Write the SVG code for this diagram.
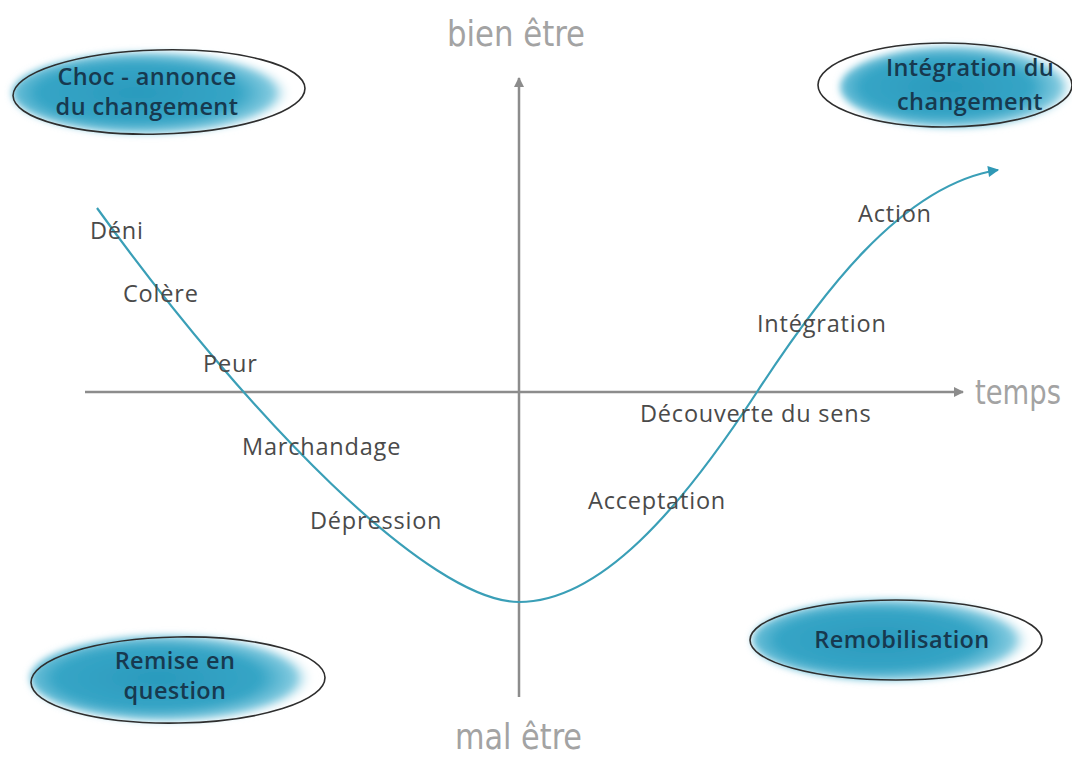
<svg xmlns="http://www.w3.org/2000/svg" width="1072" height="758" viewBox="0 0 1072 758">
<defs>
<style>
.axis{stroke:#8c8c8c;stroke-width:2.5;fill:none}
.axlbl{font-family:"DejaVu Sans ExtraLight","DejaVu Sans Condensed","DejaVu Sans",sans-serif;font-weight:200;fill:#a3a3a3;font-size:36px}
.lbl{font-family:"Open Sans","Noto Sans",sans-serif;font-size:23.5px;letter-spacing:0.8px;fill:#4a4a4a}
.nlbl{font-family:"Open Sans","Noto Sans",sans-serif;font-size:23.5px;letter-spacing:0.4px;font-weight:600;fill:#17394f;text-anchor:middle}
.outline{fill:none;stroke:#2e2e2e;stroke-width:1.6}
.blob{filter:url(#blur)}
.curve{fill:none;stroke:#3a9fb7;stroke-width:2.2}
</style>
<radialGradient id="blue" cx="0.45" cy="0.5" r="0.55">
<stop offset="0" stop-color="#2a9abd"/>
<stop offset="0.65" stop-color="#36a5c6"/>
<stop offset="0.88" stop-color="#84cbe0"/>
<stop offset="1" stop-color="#ffffff" stop-opacity="0"/>
</radialGradient>
<filter id="blur" x="-20%" y="-40%" width="140%" height="180%"><feGaussianBlur stdDeviation="3.5"/></filter>
<marker id="garrow" viewBox="0 0 10 10" refX="9" refY="5" markerWidth="4" markerHeight="4" orient="auto" markerUnits="strokeWidth"><path d="M0,0 L10,5 L0,10 z" fill="#8c8c8c"/></marker>
<marker id="barrow" viewBox="0 0 10 10" refX="9" refY="5" markerWidth="6" markerHeight="5" orient="auto" markerUnits="strokeWidth"><path d="M0,0 L10,5 L0,10 z" fill="#2f98b5"/></marker>
</defs>
<rect width="1072" height="758" fill="#ffffff"/>

<g id="axes">
<line class="axis" x1="519" y1="697" x2="519" y2="78" marker-end="url(#garrow)"/>
<line class="axis" x1="85" y1="392" x2="963" y2="392" marker-end="url(#garrow)"/>
<text class="axlbl" x="447" y="46" textLength="138" lengthAdjust="spacingAndGlyphs">bien être</text>
<text class="axlbl" x="455" y="749" textLength="127" lengthAdjust="spacingAndGlyphs">mal être</text>
<text class="axlbl" x="975" y="404" style="font-size:33px" textLength="86" lengthAdjust="spacingAndGlyphs">temps</text>
</g>

<g id="connectors">
<path class="curve" d="M97,208 C250,420 430,602 519,602 C600,602 680,510 757,392 C817,300 900,185 998,170" marker-end="url(#barrow)"/>
</g>

<g id="node-choc">
<ellipse class="blob" cx="152" cy="93" rx="140" ry="41" fill="url(#blue)"/>
<ellipse class="outline" cx="159" cy="92" rx="146" ry="42" transform="rotate(-1.5 159 92)"/>
<text class="nlbl" x="147" y="85">Choc - annonce</text>
<text class="nlbl" x="147" y="115">du changement</text>
</g>

<g id="node-integration">
<ellipse class="blob" cx="958" cy="87" rx="118" ry="41" fill="url(#blue)"/>
<ellipse class="outline" cx="945" cy="85" rx="127" ry="42"/>
<text class="nlbl" x="970" y="76">Intégration du</text>
<text class="nlbl" x="970" y="110">changement</text>
</g>

<g id="node-remise">
<ellipse class="blob" cx="172" cy="678" rx="142" ry="43" fill="url(#blue)"/>
<ellipse class="outline" cx="178" cy="680" rx="147" ry="43" transform="rotate(-1 178 680)"/>
<text class="nlbl" x="175" y="669">Remise en</text>
<text class="nlbl" x="175" y="699">question</text>
</g>

<g id="node-remobilisation">
<ellipse class="blob" cx="892" cy="640" rx="140" ry="41" fill="url(#blue)"/>
<ellipse class="outline" cx="896" cy="640" rx="146" ry="40"/>
<text class="nlbl" x="902" y="648">Remobilisation</text>
</g>

<g id="labels">
<text class="lbl" x="90" y="239">Déni</text>
<text class="lbl" x="123" y="302">Colère</text>
<text class="lbl" x="203" y="372">Peur</text>
<text class="lbl" x="242" y="455">Marchandage</text>
<text class="lbl" x="310" y="529">Dépression</text>
<text class="lbl" x="588" y="509">Acceptation</text>
<text class="lbl" x="640" y="422">Découverte du sens</text>
<text class="lbl" x="757" y="332">Intégration</text>
<text class="lbl" x="858" y="222">Action</text>
</g>
</svg>
